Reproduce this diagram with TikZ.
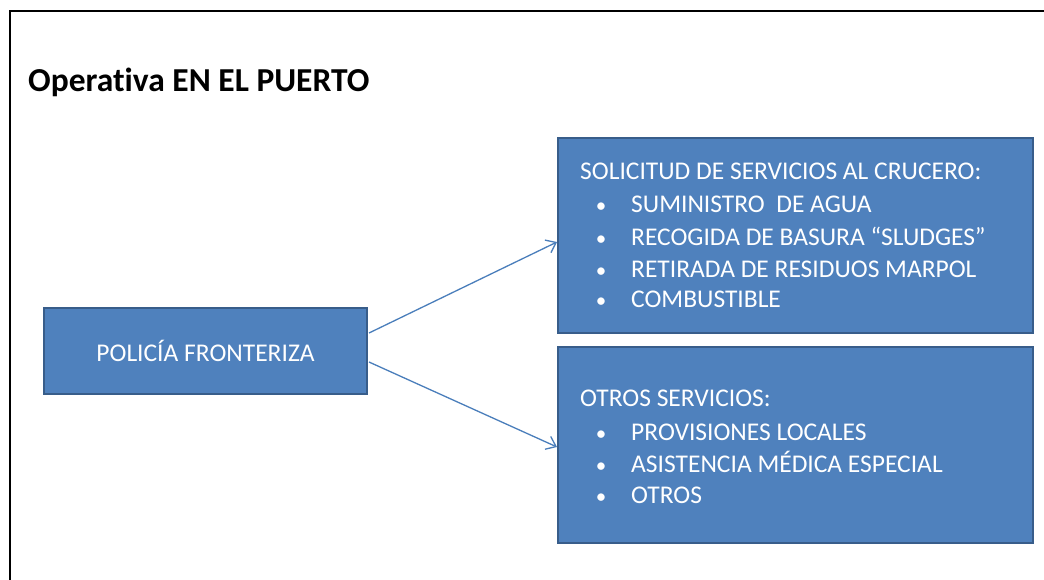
\documentclass[tikz,border=0pt]{standalone}
\usepackage{fontspec}
\setmainfont{Carlito}[Ligatures=NoCommon]
\usetikzlibrary{arrows.meta}
\definecolor{boxfill}{HTML}{4F81BD}
\definecolor{boxline}{HTML}{385D8A}
\definecolor{arrowcol}{HTML}{4A7EBB}
\begin{document}
\begin{tikzpicture}[x=1pt,y=-1pt,
  bluebox/.style={draw=boxline, line width=2.5pt, fill=boxfill, rectangle, inner sep=0pt, outer sep=0pt, anchor=north west},
  boxtext/.style={text=white, font=\fontsize{25.5}{30}\selectfont, anchor=base west, inner sep=0pt},
  bul/.style={text=white, font=\fontsize{21}{24}\selectfont, anchor=base, inner sep=0pt},
  conn/.style={draw=arrowcol, line width=1.3pt, -{Straight Barb[length=9pt,width=14pt,line width=1.3pt]}}
]
\useasboundingbox (0,0) rectangle (1044,579);
\fill[white] (0,0) rectangle (1044,579);
% frame
\draw[line width=2pt, line cap=rect] (10,579) -- (10,11) -- (1044,11);
% title
\node[anchor=base west, inner sep=0pt, font=\fontsize{33.5}{38}\selectfont\bfseries] (title) at (28,91) {Operativa EN EL PUERTO};
% boxes
\node[bluebox, minimum width=323pt, minimum height=86pt] (pol) at (44,308) {};
\node[text=white, font=\fontsize{25.5}{30}\selectfont, inner sep=0pt] (poltext) at (pol.center) {POLICÍA FRONTERIZA};
\node[bluebox, minimum width=475pt, minimum height=195pt] (sol) at (558,138) {};
\node[bluebox, minimum width=475pt, minimum height=196pt] (otr) at (558,347) {};
% top box text
\node[boxtext] (s0) at (580,179) {SOLICITUD DE SERVICIOS AL CRUCERO:};
\node[bul] (b1) at (601,212) {\textbullet};
\node[boxtext] (s1) at (631,212) {SUMINISTRO \ DE AGUA};
\node[bul] (b2) at (601,245) {\textbullet};
\node[boxtext] (s2) at (631,245) {RECOGIDA DE BASURA “SLUDGES”};
\node[bul] (b3) at (601,277) {\textbullet};
\node[boxtext] (s3) at (631,277) {RETIRADA DE RESIDUOS MARPOL};
\node[bul] (b4) at (601,307) {\textbullet};
\node[boxtext] (s4) at (631,307) {COMBUSTIBLE};
% bottom box text
\node[boxtext] (o0) at (580,406) {OTROS SERVICIOS:};
\node[bul] (c1) at (601,440) {\textbullet};
\node[boxtext] (o1) at (631,440) {PROVISIONES LOCALES};
\node[bul] (c2) at (601,472) {\textbullet};
\node[boxtext] (o2) at (631,472) {ASISTENCIA MÉDICA ESPECIAL};
\node[bul] (c3) at (601,503) {\textbullet};
\node[boxtext] (o3) at (631,503) {OTROS};
% connectors
\coordinate (a1s) at (369,333);
\coordinate (a1e) at (557,242);
\coordinate (a2s) at (369,362);
\coordinate (a2e) at (557,447);
\draw[conn] (a1s) -- (a1e);
\draw[conn] (a2s) -- (a2e);
\end{tikzpicture}
\end{document}
